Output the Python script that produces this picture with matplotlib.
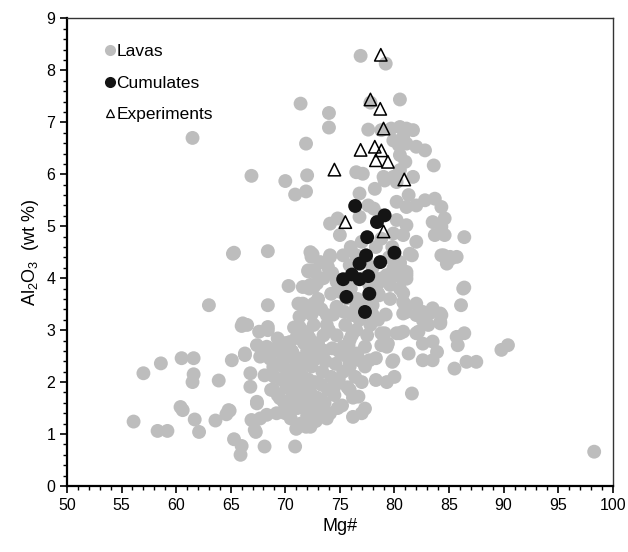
import matplotlib
matplotlib.use("Agg")
import matplotlib.pyplot as plt
from matplotlib.lines import Line2D
from matplotlib.ticker import MultipleLocator

plt.rcParams['font.family'] = ['Liberation Sans', 'DejaVu Sans']
plt.rcParams['mathtext.default'] = 'regular'

# Lavas (gray)
lava_pts = [
    (98.3, 0.66), (61.5, 6.7), (56.1, 1.24), (58.3, 1.06), (59.2, 1.06), (57.0, 2.17),
    (58.6, 2.36), (60.5, 2.46), (61.6, 2.46), (61.6, 2.15), (61.5, 2.0), (63.0, 3.48),
    (63.9, 2.03), (60.4, 1.52), (60.6, 1.46), (61.7, 1.28), (62.1, 1.04), (63.6, 1.26),
    (64.6, 1.38), (64.9, 1.45), (65.1, 2.42), (65.2, 4.47), (68.4, 4.52), (68.4, 3.48),
    (66.0, 3.08), (66.5, 3.1), (66.3, 2.52), (66.8, 2.17), (66.8, 1.91), (67.4, 1.59),
    (66.9, 1.27), (67.3, 1.04), (65.3, 0.9), (66.0, 0.77), (65.9, 0.6), (68.1, 0.76),
    (70.9, 0.76), (71.9, 1.14), (70.3, 3.85), (67.6, 2.97), (68.4, 3.0), (69.3, 2.84),
    (67.4, 2.71), (68.3, 2.68), (67.7, 2.49), (68.1, 2.13), (68.9, 1.85), (69.5, 1.69),
    (69.2, 1.4), (70.0, 1.4), (68.3, 1.37), (67.7, 1.3), (70.4, 2.77), (70.7, 2.55),
    (69.5, 2.36), (68.9, 2.29), (72.0, 3.83), (72.6, 3.83), (71.2, 3.51), (71.6, 3.51),
    (72.9, 3.48), (72.1, 4.15), (72.6, 4.15), (72.4, 4.41), (74.1, 4.41), (71.3, 3.26),
    (71.3, 3.06), (72.0, 2.94), (70.7, 2.1), (71.6, 1.65), (72.7, 1.46), (66.3, 2.55),
    (67.4, 1.62), (67.2, 1.08), (68.7, 1.85), (68.9, 2.62), (64.8, 1.46),
    (79.1, 2.94), (80.2, 2.94), (80.8, 2.97), (78.8, 2.71), (79.4, 2.74), (82.2, 2.97),
    (83.1, 3.1), (84.2, 3.13), (81.3, 2.55), (82.6, 2.74), (83.5, 2.78), (83.9, 2.58),
    (82.6, 2.42), (83.5, 2.42), (85.7, 2.87), (86.4, 2.94), (85.8, 2.71), (85.5, 2.26),
    (86.6, 2.39), (87.5, 2.39), (77.3, 2.68), (75.9, 2.36), (76.8, 2.42), (77.7, 2.42),
    (78.3, 2.46), (79.8, 2.39), (78.3, 2.04), (79.3, 2.0), (80.0, 2.1), (81.6, 1.78),
    (75.9, 1.85), (76.7, 1.72), (77.3, 1.49), (76.2, 1.33), (74.5, 1.91), (73.3, 1.65),
    (72.3, 1.14), (75.3, 2.68), (75.9, 2.81), (76.5, 3.0), (77.0, 1.4),
    (86.4, 3.82), (86.1, 3.48), (89.8, 2.62), (90.4, 2.71), (84.2, 3.32), (84.2, 3.16),
    (83.2, 3.32), (82.6, 3.19), (82.0, 2.94), (80.8, 3.71), (80.9, 3.51), (82.0, 3.51),
    (80.8, 3.32), (80.5, 4.03), (81.1, 4.06), (80.2, 4.22), (80.5, 4.28), (78.8, 2.94),
    (80.5, 2.94), (79.3, 2.68), (79.9, 2.42), (78.5, 3.71), (78.5, 3.9), (84.5, 4.44),
    (85.2, 4.38), (81.6, 4.44),
    (78.2, 5.72), (79.1, 5.88), (80.2, 5.85), (76.8, 5.63), (77.6, 5.40), (76.8, 5.18),
    (74.1, 5.05), (74.8, 5.15), (75.0, 4.83), (80.2, 5.47), (81.3, 5.6), (81.1, 5.37),
    (82.0, 5.40), (82.8, 5.5), (83.7, 5.53), (84.3, 5.37), (80.2, 5.12), (81.1, 5.02),
    (79.9, 4.86), (80.8, 4.83), (83.5, 5.08), (84.3, 4.99), (84.6, 5.15), (83.7, 4.83),
    (84.6, 4.83), (86.4, 4.79), (82.0, 4.70), (81.4, 4.47), (80.5, 4.31), (81.1, 4.12),
    (84.3, 4.44), (85.1, 4.41), (85.7, 4.41), (84.8, 4.28), (86.3, 3.8), (79.3, 4.06),
    (79.6, 3.87), (80.5, 3.8), (81.1, 3.99), (80.8, 3.54), (81.1, 3.35), (82.0, 3.29),
    (82.6, 3.35), (83.5, 3.42), (84.3, 3.29), (72.3, 4.5), (73.2, 4.31), (74.1, 4.44),
    (73.9, 4.22), (72.3, 3.87), (72.9, 3.54), (73.8, 3.29), (74.7, 3.45), (75.6, 3.61),
    (76.2, 3.29), (75.3, 4.44), (76.5, 4.44), (77.4, 4.38), (75.9, 4.25), (77.7, 3.87),
    (78.3, 3.99), (78.6, 3.67), (79.9, 4.19), (80.2, 4.06), (75.0, 3.74), (74.7, 3.93),
    (76.5, 3.42), (78.0, 3.48), (78.7, 5.21), (78.1, 5.34), (78.8, 4.76), (78.3, 4.6),
    (76.9, 8.28), (79.2, 8.13), (80.5, 7.44), (77.8, 7.38), (74.0, 7.18), (74.0, 6.9),
    (77.6, 6.86), (78.8, 6.85), (79.7, 6.88), (80.5, 6.91), (81.1, 6.88), (81.7, 6.85),
    (79.9, 6.65), (80.4, 6.56), (80.8, 6.72), (81.1, 6.59), (82.0, 6.53), (82.8, 6.46),
    (80.5, 6.37), (81.0, 6.24), (80.5, 6.08), (83.6, 6.17), (76.5, 6.04), (77.1, 6.01),
    (79.0, 5.95), (79.9, 5.95), (81.7, 5.95), (71.4, 7.36), (71.9, 6.59), (66.9, 5.97),
    (70.0, 5.87), (72.0, 5.98), (70.9, 5.61), (71.9, 5.67), (65.3, 4.49), (72.5, 4.46),
    (72.1, 4.13), (72.7, 4.12), (71.6, 3.83), (72.2, 3.8), (71.8, 3.38), (72.6, 3.51),
    (66.1, 3.13), (68.4, 3.06),
    # dense block around Mg# 69-78
    (69.3, 1.75), (69.6, 2.05), (69.9, 1.6), (69.8, 2.3), (70.1, 1.9), (70.3, 2.5),
    (70.0, 2.75), (70.5, 1.3), (70.6, 1.7), (70.7, 2.0), (70.9, 2.3), (70.6, 2.6),
    (71.0, 2.85), (70.8, 3.05), (71.1, 1.5), (71.2, 1.85), (71.4, 1.2), (71.5, 1.6),
    (71.6, 2.1), (71.4, 2.45), (71.7, 2.75), (71.5, 3.0), (71.8, 1.9), (71.9, 2.4),
    (72.0, 1.35), (71.3, 2.2), (72.2, 1.55), (72.3, 1.8), (72.1, 2.05), (72.4, 2.3),
    (72.5, 2.6), (72.2, 2.85), (72.6, 3.1), (72.8, 1.25), (72.9, 1.7), (72.7, 2.0),
    (72.8, 2.45), (73.0, 2.75), (72.4, 3.3), (73.2, 1.45), (73.3, 1.95), (73.4, 2.2),
    (73.1, 2.55), (73.5, 2.9), (73.6, 1.6), (73.7, 2.4), (73.8, 3.1), (73.3, 3.4),
    (73.9, 1.85), (73.0, 3.6), (74.1, 1.4), (74.2, 2.1), (74.3, 2.65), (74.0, 3.0),
    (74.5, 1.75), (74.6, 2.35), (74.4, 3.3), (74.7, 2.9), (74.9, 2.05), (74.2, 3.7),
    (75.2, 1.55), (75.3, 2.2), (75.1, 2.55), (75.5, 3.1), (75.7, 1.9), (75.8, 2.7),
    (75.4, 3.35), (75.9, 2.3), (76.2, 1.7), (76.4, 2.1), (76.6, 2.55), (76.1, 2.9),
    (76.8, 3.2), (76.5, 3.45), (77.0, 2.0), (77.3, 2.3), (77.5, 2.9), (77.8, 3.1),
    (77.2, 3.5), (69.0, 2.1), (68.6, 2.45), (69.4, 2.6), (72.9, 3.9), (73.5, 4.0),
    (74.3, 4.1), (76.0, 3.8), (76.6, 3.6), (77.2, 4.0), (78.0, 3.3), (78.5, 3.2),
    (79.2, 3.3), (79.6, 3.6), (78.9, 4.0), (79.8, 4.6), (76.0, 4.6), (77.0, 4.7),
    (78.0, 4.2), (79.5, 4.4), (77.9, 3.75),
    (70.2, 2.2), (71.0, 1.1), (73.8, 1.3), (74.8, 1.5), (75.6, 2.5), (74.9, 2.6),
    (73.6, 2.6), (72.0, 2.6), (70.4, 1.55),
]
lava_mg = [p[0] for p in lava_pts]
lava_al = [p[1] for p in lava_pts]

# Cumulates (black)
cum_mg = [76.4, 79.1, 78.4, 77.5, 80.0, 77.4, 76.8, 78.7, 75.3, 76.1, 76.8, 77.6, 75.6, 77.7, 77.3]
cum_al = [5.39, 5.21, 5.08, 4.79, 4.49, 4.44, 4.28, 4.31, 3.98, 4.07, 3.98, 4.04, 3.64, 3.70, 3.35]

# Experiments (open triangles)
exp_mg = [78.75, 77.8, 78.7, 79.0, 76.9, 78.2, 78.8, 78.3, 79.4, 74.5, 80.9, 75.5, 79.0]
exp_al = [8.30, 7.44, 7.26, 6.88, 6.47, 6.53, 6.46, 6.27, 6.24, 6.09, 5.90, 5.08, 4.90]

gray = '#bdbdbd'

fig = plt.figure(figsize=(6.28, 5.52), dpi=100)
ax = fig.add_axes([0.1067, 0.1196, 0.869, 0.847])

ax.scatter(lava_mg, lava_al, s=100, color=gray, edgecolors='none', zorder=2)
ax.scatter(cum_mg, cum_al, s=100, color='#141414', edgecolors='none', zorder=3)
ax.scatter(exp_mg, exp_al, s=80, marker='^', facecolors='none', edgecolors='black',
           linewidths=1.1, zorder=4)

ax.set_xlim(50, 100)
ax.set_ylim(0, 9)
ax.xaxis.set_major_locator(MultipleLocator(5))
ax.xaxis.set_minor_locator(MultipleLocator(1))
ax.yaxis.set_major_locator(MultipleLocator(1))
ax.yaxis.set_minor_locator(MultipleLocator(0.2))
ax.tick_params(which='major', direction='out', length=5, width=1.2, labelsize=11.5)
ax.tick_params(which='minor', direction='out', length=3, width=1.0)

for side in ['left', 'bottom']:
    ax.spines[side].set_linewidth(1.6)
for side in ['top', 'right']:
    ax.spines[side].set_linewidth(1.0)
    ax.spines[side].set_color('#333333')

ax.set_xlabel('Mg#', fontsize=13)
ax.set_ylabel('Al$_2$O$_3$  (wt %)', fontsize=13)

handles = [
    Line2D([], [], ls='none', marker='o', ms=8, mfc=gray, mec='none'),
    Line2D([], [], ls='none', marker='o', ms=8, mfc='#141414', mec='none'),
    Line2D([], [], ls='none', marker='^', ms=6, mfc='none', mec='black', mew=0.9),
]
ax.legend(handles, ['Lavas', 'Cumulates', 'Experiments'], loc='upper left',
          frameon=False, fontsize=12.5, handlelength=0.6, handletextpad=0.1,
          labelspacing=0.95, borderaxespad=0.9, bbox_to_anchor=(0.027, 0.994))

fig.savefig('out.png', dpi=100)
